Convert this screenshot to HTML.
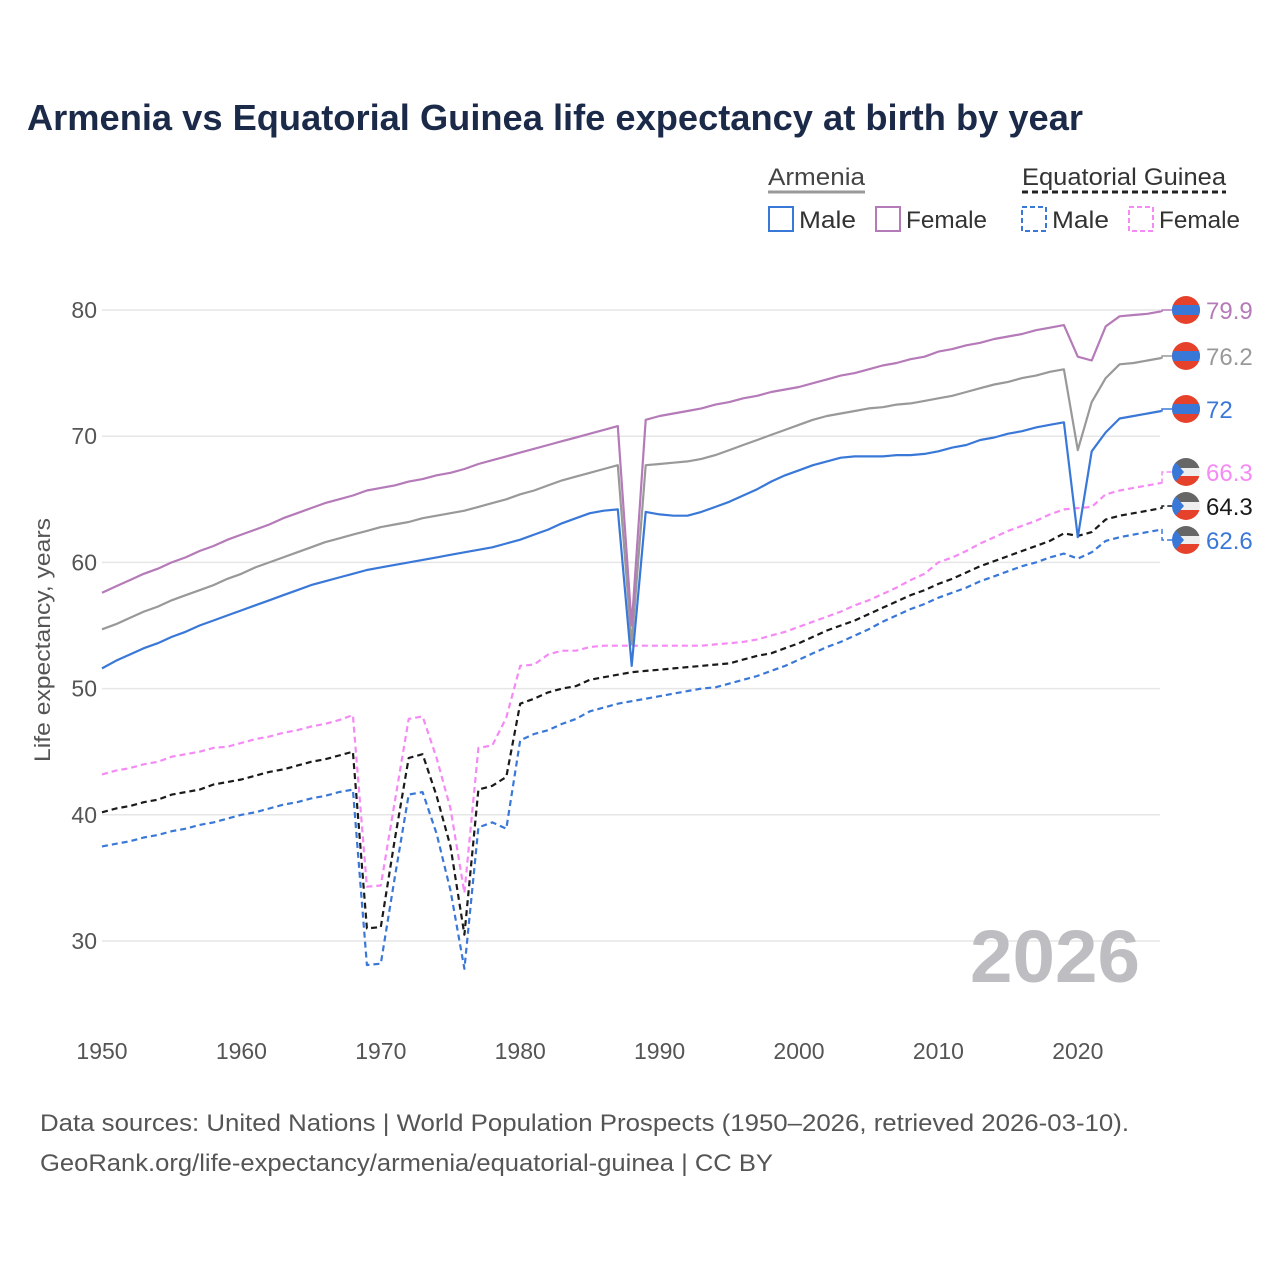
<!DOCTYPE html>
<html><head><meta charset="utf-8">
<style>
body{margin:0;background:#fff;font-family:"Liberation Sans",sans-serif;}
svg text{font-family:"Liberation Sans",sans-serif;}
</style></head>
<body>
<svg id="chart" width="1280" height="1280" viewBox="0 0 1280 1280" xmlns="http://www.w3.org/2000/svg">
<rect width="1280" height="1280" fill="#fff"/>
<text x="27" y="130" font-size="36" font-weight="bold" fill="#1b2a48" textLength="1056" lengthAdjust="spacingAndGlyphs">Armenia vs Equatorial Guinea life expectancy at birth by year</text>
<g>
<text x="768" y="185" font-size="24" fill="#444" textLength="97" lengthAdjust="spacingAndGlyphs">Armenia</text>
<line x1="768" y1="192" x2="865" y2="192" stroke="#999" stroke-width="3"/>
<text x="1022" y="185" font-size="24" fill="#333" textLength="204" lengthAdjust="spacingAndGlyphs">Equatorial Guinea</text>
<line x1="1022" y1="192" x2="1226" y2="192" stroke="#222" stroke-width="3" stroke-dasharray="6,4"/>
<rect x="769" y="207" width="24" height="24" fill="none" stroke="#3a78d8" stroke-width="2"/>
<text x="799" y="228" font-size="24" fill="#333" textLength="57" lengthAdjust="spacingAndGlyphs">Male</text>
<rect x="876" y="207" width="24" height="24" fill="none" stroke="#b57ab8" stroke-width="2"/>
<text x="906" y="228" font-size="24" fill="#333" textLength="81" lengthAdjust="spacingAndGlyphs">Female</text>
<rect x="1022" y="207" width="24" height="24" fill="none" stroke="#3a78d8" stroke-width="2" stroke-dasharray="5,3"/>
<text x="1052" y="228" font-size="24" fill="#333" textLength="57" lengthAdjust="spacingAndGlyphs">Male</text>
<rect x="1129" y="207" width="24" height="24" fill="none" stroke="#f58af5" stroke-width="2" stroke-dasharray="5,3"/>
<text x="1159" y="228" font-size="24" fill="#333" textLength="81" lengthAdjust="spacingAndGlyphs">Female</text>
</g>
<g id="grid"></g>
<g id="series"></g>
<g id="ends"></g>
<text transform="translate(50,640) rotate(-90)" text-anchor="middle" font-size="22" fill="#555" textLength="244" lengthAdjust="spacingAndGlyphs">Life expectancy, years</text>
<text x="1140" y="982" text-anchor="end" font-size="74" font-weight="bold" fill="#bdbdc2" textLength="170" lengthAdjust="spacingAndGlyphs">2026</text>
<text x="40" y="1131" font-size="24" fill="#555" textLength="1089" lengthAdjust="spacingAndGlyphs">Data sources: United Nations | World Population Prospects (1950–2026, retrieved 2026-03-10).</text>
<text x="40" y="1171" font-size="24" fill="#555" textLength="733" lengthAdjust="spacingAndGlyphs">GeoRank.org/life-expectancy/armenia/equatorial-guinea | CC BY</text>
</svg>
<script>
const years = Array.from({length:77},(_, i)=>1950+i);
const xTicks = [1950,1960,1970,1980,1990,2000,2010,2020];
const yTicks = [30,40,50,60,70,80];
const armeniaMale = [51.6,52.2,52.7,53.2,53.6,54.1,54.5,55.0,55.4,55.8,56.2,56.6,57.0,57.4,57.8,58.2,58.5,58.8,59.1,59.4,
59.6,59.8,60.0,60.2,60.4,60.6,60.8,61.0,61.2,61.5,61.8,62.2,62.6,63.1,63.5,63.9,64.1,64.2,51.8,64.0,
63.8,63.7,63.7,64.0,64.4,64.8,65.3,65.8,66.4,66.9,67.3,67.7,68.0,68.3,68.4,68.4,68.4,68.5,68.5,68.6,
68.8,69.1,69.3,69.7,69.9,70.2,70.4,70.7,70.9,71.1,62.0,68.8,70.3,71.4,71.6,71.8,72.0];
const armeniaTotal = [54.7,55.1,55.6,56.1,56.5,57.0,57.4,57.8,58.2,58.7,59.1,59.6,60.0,60.4,60.8,61.2,61.6,61.9,62.2,62.5,
62.8,63.0,63.2,63.5,63.7,63.9,64.1,64.4,64.7,65.0,65.4,65.7,66.1,66.5,66.8,67.1,67.4,67.7,53.5,67.7,
67.8,67.9,68.0,68.2,68.5,68.9,69.3,69.7,70.1,70.5,70.9,71.3,71.6,71.8,72.0,72.2,72.3,72.5,72.6,72.8,
73.0,73.2,73.5,73.8,74.1,74.3,74.6,74.8,75.1,75.3,68.9,72.7,74.6,75.7,75.8,76.0,76.2];
const armeniaFemale = [57.6,58.1,58.6,59.1,59.5,60.0,60.4,60.9,61.3,61.8,62.2,62.6,63.0,63.5,63.9,64.3,64.7,65.0,65.3,65.7,
65.9,66.1,66.4,66.6,66.9,67.1,67.4,67.8,68.1,68.4,68.7,69.0,69.3,69.6,69.9,70.2,70.5,70.8,55.0,71.3,
71.6,71.8,72.0,72.2,72.5,72.7,73.0,73.2,73.5,73.7,73.9,74.2,74.5,74.8,75.0,75.3,75.6,75.8,76.1,76.3,
76.7,76.9,77.2,77.4,77.7,77.9,78.1,78.4,78.6,78.8,76.3,76.0,78.7,79.5,79.6,79.7,79.9];
const egMale = [37.5,37.7,37.9,38.2,38.4,38.7,38.9,39.2,39.4,39.7,40.0,40.2,40.5,40.8,41.0,41.3,41.5,41.8,42.0,28.1,
28.2,35.0,41.6,41.8,38.5,34.0,27.8,39.0,39.4,38.9,45.9,46.4,46.7,47.2,47.6,48.2,48.5,48.8,49.0,49.2,
49.4,49.6,49.8,50.0,50.1,50.4,50.7,51.0,51.4,51.8,52.3,52.8,53.3,53.7,54.2,54.7,55.3,55.8,56.3,56.7,
57.2,57.6,58.0,58.5,58.9,59.3,59.7,60.0,60.4,60.7,60.3,60.8,61.7,62.0,62.2,62.4,62.6];
const egTotal = [40.2,40.5,40.7,41.0,41.2,41.6,41.8,42.0,42.4,42.6,42.8,43.1,43.4,43.6,43.9,44.2,44.4,44.7,45.0,31.0,
31.1,38.0,44.5,44.8,41.5,37.5,30.5,42.0,42.3,43.0,48.8,49.2,49.7,50.0,50.2,50.7,50.9,51.1,51.3,51.4,
51.5,51.6,51.7,51.8,51.9,52.0,52.3,52.6,52.8,53.2,53.6,54.1,54.6,55.0,55.4,55.9,56.4,56.9,57.4,57.8,
58.3,58.7,59.2,59.7,60.1,60.5,60.9,61.3,61.7,62.3,62.1,62.4,63.4,63.7,63.9,64.1,64.3];
const egFemale = [43.2,43.5,43.7,44.0,44.2,44.6,44.8,45.0,45.3,45.4,45.7,46.0,46.2,46.5,46.7,47.0,47.2,47.5,47.9,34.3,
34.4,41.0,47.6,47.8,44.5,40.5,33.8,45.3,45.5,47.7,51.8,51.9,52.7,53.0,53.0,53.3,53.4,53.4,53.4,53.4,
53.4,53.4,53.4,53.4,53.5,53.6,53.7,53.9,54.2,54.5,54.9,55.3,55.7,56.1,56.6,57.0,57.5,58.0,58.6,59.1,
60.0,60.4,60.9,61.5,62.0,62.5,62.9,63.3,63.8,64.2,64.3,64.4,65.4,65.7,65.9,66.1,66.3];
const endLabels = ["79.9","76.2","72","66.3","64.3","62.6"];

const NS="http://www.w3.org/2000/svg";
const x = yr => 102 + (yr-1950)*13.94;
const y = v => 310 + (80-v)*12.62;
function mk(tag, attrs, parent){const e=document.createElementNS(NS,tag);for(const k in attrs)e.setAttribute(k,attrs[k]);parent.appendChild(e);return e;}
const grid=document.getElementById('grid');
yTicks.forEach(t=>{
  const l=mk('line',{x1:102,x2:1160,y1:y(t),y2:y(t),stroke:'#e6e6e6','stroke-width':1.5},grid);
  
  
  const tx=mk('text',{x:97,y:y(t)+8,'text-anchor':'end','font-size':23,fill:'#555'},grid);
  tx.textContent=t;
  
  
});
xTicks.forEach(t=>{
  const tx=mk('text',{x:x(t),y:1059,'text-anchor':'middle','font-size':23,fill:'#555'},grid);
  tx.textContent=t;
  
  
});
const series=document.getElementById('series');
const defs=[
 {d:egMale,c:'#3a78d8',dash:'6,4',n:'eg-male-line'},
 {d:egFemale,c:'#f58af5',dash:'6,4',n:'eg-female-line'},
 {d:egTotal,c:'#1a1a1a',dash:'6,4',n:'eg-total-line'},
 {d:armeniaTotal,c:'#999999',dash:null,n:'armenia-total-line'},
 {d:armeniaMale,c:'#3a78d8',dash:null,n:'armenia-male-line'},
 {d:armeniaFemale,c:'#b57ab8',dash:null,n:'armenia-female-line'}
];
defs.forEach(s=>{
  const pts=s.d.map((v,i)=>x(years[i]).toFixed(1)+','+y(v).toFixed(1)).join(' ');
  const a={points:pts,fill:'none',stroke:s.c,'stroke-width':2.2,'stroke-linejoin':'round'};
  if(s.dash)a['stroke-dasharray']=s.dash;
  const p=mk('polyline',a,series);
  
  
});
const ends=document.getElementById('ends');
const last=years.length-1;
const endSeries=[
 {d:armeniaFemale,c:'#b57ab8',ly:310,arm:true},
 {d:armeniaTotal,c:'#999999',ly:356,arm:true},
 {d:armeniaMale,c:'#3a78d8',ly:409,arm:true},
 {d:egFemale,c:'#f58af5',ly:472,arm:false},
 {d:egTotal,c:'#1a1a1a',ly:506,arm:false},
 {d:egMale,c:'#3a78d8',ly:540,arm:false}
];
endSeries.forEach((s,i)=>{
  const yv=y(s.d[last]);
  const a={points:`${x(2026)},${yv} 1162,${yv} 1162,${s.ly} 1172,${s.ly}`,fill:'none',stroke:s.c,'stroke-width':1.5};
  if(!s.arm)a['stroke-dasharray']='5,3';
  mk('polyline',a,ends);
  const g=mk('g',{},ends);
  
  
  const cx=1186,cy=s.ly,r=14;
  const cid='c'+i;
  const cp=mk('clipPath',{id:cid},g);mk('circle',{cx,cy,r},cp);
  const gg=mk('g',{'clip-path':`url(#${cid})`},g);
  if(s.arm){
    mk('rect',{x:cx-r,y:cy-r,width:2*r,height:2*r,fill:'#e5412b'},gg);
    mk('rect',{x:cx-r,y:cy-5,width:2*r,height:10,fill:'#3a78d8'},gg);
  }else{
    mk('rect',{x:cx-r,y:cy-r,width:2*r,height:10,fill:'#666'},gg);
    mk('rect',{x:cx-r,y:cy-4,width:2*r,height:8,fill:'#eee'},gg);
    mk('rect',{x:cx-r,y:cy+4,width:2*r,height:10,fill:'#e5412b'},gg);
    mk('polygon',{points:`${cx-r},${cy-r} ${cx-2},${cy} ${cx-r},${cy+r}`,fill:'#3a78d8'},gg);
  }
  const t=mk('text',{x:1206,y:s.ly+9,'font-size':24,fill:s.c},ends);
  t.textContent=endLabels[i];
  
  
});
</script>
</body></html>
